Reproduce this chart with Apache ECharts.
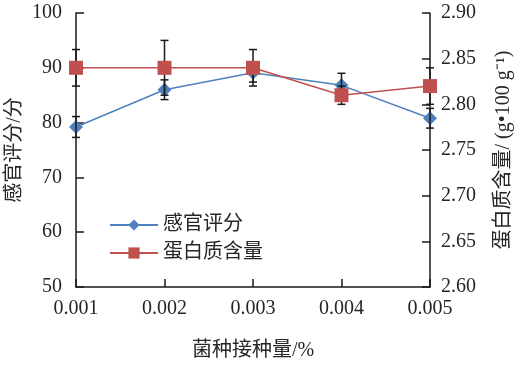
<!DOCTYPE html>
<html><head><meta charset="utf-8">
<script src="https://cdn.jsdelivr.net/npm/echarts@6/dist/echarts.min.js"></script>
<style>html,body{margin:0;padding:0;background:#fff}#c{width:517px;height:365px}</style>
</head><body><div id="c"></div>
<script>
var categories = ['0.001', '0.002', '0.003', '0.004', '0.005'];
var sensory = [79.2, 86.0, 89.1, 86.8, 80.8];
var sensoryErr = [1.9, 1.8, 1.7, 2.2, 1.8];
var protein = [2.84, 2.84, 2.84, 2.81, 2.82];
var proteinErr = [0.02, 0.03, 0.02, 0.01, 0.02];
var leftTicks = [50, 100, 10];
var rightTicks = [2.6, 2.9, 0.05];

var FONT = '"Liberation Serif", "Noto Sans CJK SC", serif';
var TXT = '#262626';

function errData(vals, errs) {
  return vals.map(function (v, i) { return [i, v, errs[i]]; });
}
function errRender(params, api) {
  var i = api.value(0), v = api.value(1), e = api.value(2);
  var top = api.coord([i, v + e]);
  var bot = api.coord([i, v - e]);
  var w = 4;
  var st = { stroke: '#1a1a1a', lineWidth: 1.5 };
  return { type: 'group', children: [
    { type: 'line', shape: { x1: top[0], y1: top[1], x2: bot[0], y2: bot[1] }, style: st },
    { type: 'line', shape: { x1: top[0] - w, y1: top[1], x2: top[0] + w, y2: top[1] }, style: st },
    { type: 'line', shape: { x1: bot[0] - w, y1: bot[1], x2: bot[0] + w, y2: bot[1] }, style: st }
  ]};
}

var axisLineStyle = { lineStyle: { color: '#1a1a1a', width: 1.5 } };
var chart = echarts.init(document.getElementById('c'));
chart.setOption({
  animation: false,
  backgroundColor: '#fff',
  textStyle: { fontFamily: FONT },
  grid: { left: 76, right: 87, top: 13, bottom: 78, containLabel: false, outerBoundsMode: 'none' },
  legend: {
    orient: 'vertical', left: 104, top: 210, itemGap: 8, itemWidth: 48, itemHeight: 14,
    textStyle: { fontFamily: FONT, fontSize: 20, color: TXT },
    data: ['感官评分', '蛋白质含量']
  },
  xAxis: {
    type: 'category', data: categories, boundaryGap: false,
    name: '菌种接种量/%', nameLocation: 'middle', nameGap: 54, nameMoveOverlap: false,
    nameTextStyle: { fontFamily: FONT, fontSize: 20, color: TXT },
    axisLine: axisLineStyle,
    axisTick: { inside: true, length: 8, lineStyle: { color: '#1a1a1a', width: 1.5 } },
    axisLabel: { fontSize: 20, color: TXT, margin: 12, fontFamily: FONT },
    splitLine: { show: false }
  },
  yAxis: [{
    type: 'value', min: leftTicks[0], max: leftTicks[1], interval: leftTicks[2],
    name: '感官评分/分', nameLocation: 'middle', nameGap: 61, nameRotate: 90, nameMoveOverlap: false,
    nameTextStyle: { fontFamily: FONT, fontSize: 20, color: TXT, align: 'center', verticalAlign: 'middle' },
    axisLine: { show: true, lineStyle: { color: '#1a1a1a', width: 1.5 } },
    axisTick: { show: true, inside: true, length: 8, lineStyle: { color: '#1a1a1a', width: 1.5 } },
    axisLabel: { fontSize: 20, color: TXT, margin: 14, fontFamily: FONT },
    splitLine: { show: false }
  }, {
    type: 'value', position: 'right', min: rightTicks[0], max: rightTicks[1], interval: rightTicks[2],
    name: '蛋白质含量/ (g•100 g⁻¹)', nameLocation: 'middle', nameGap: 74, nameRotate: 90, nameMoveOverlap: false,
    nameTextStyle: { fontFamily: FONT, fontSize: 20, color: TXT, align: 'center', verticalAlign: 'middle' },
    axisLine: { show: true, lineStyle: { color: '#1a1a1a', width: 1.5 } },
    axisTick: { show: true, inside: true, length: 8, lineStyle: { color: '#1a1a1a', width: 1.5 } },
    axisLabel: { fontSize: 20, color: TXT, margin: 11, fontFamily: FONT,
      formatter: function (v) { return v.toFixed(2); } },
    splitLine: { show: false }
  }],
  series: [{
    name: '感官评分', type: 'line', yAxisIndex: 0, data: sensory,
    symbol: 'diamond', symbolSize: 14, z: 2,
    itemStyle: { color: '#4F81BD' }, lineStyle: { color: '#4F81BD', width: 1.5 }
  }, {
    name: 'errS', type: 'custom', yAxisIndex: 0, data: errData(sensory, sensoryErr),
    renderItem: errRender, z: 3, silent: true
  }, {
    name: 'errP', type: 'custom', yAxisIndex: 1, data: errData(protein, proteinErr),
    renderItem: errRender, z: 3, silent: true
  }, {
    name: '蛋白质含量', type: 'line', yAxisIndex: 1, data: protein,
    symbol: 'rect', symbolSize: 14, z: 4,
    itemStyle: { color: '#C0504D' }, lineStyle: { color: '#C0504D', width: 1.5 }
  }]
});
</script></body></html>
